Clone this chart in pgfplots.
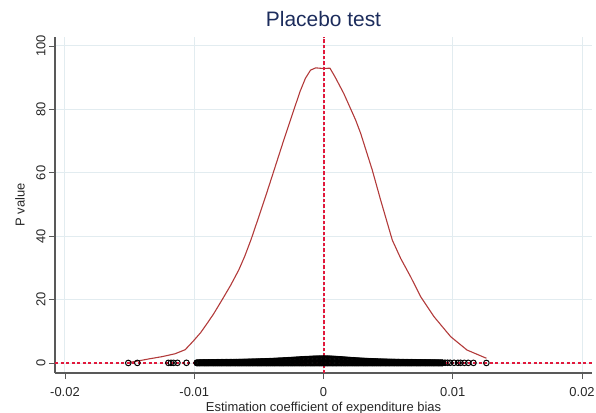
\documentclass[border=0pt]{standalone}
\usepackage{fontspec}
\setmainfont{Liberation Sans}
\usepackage{pgfplots}
\usepackage{pgfplotstable}
\pgfplotsset{compat=1.18}
\definecolor{curvered}{RGB}{178,58,58}
\definecolor{refred}{RGB}{225,25,60}
\definecolor{titlenavy}{RGB}{28,44,92}
\definecolor{gridblue}{RGB}{226,236,240}

% dense band of estimates: x, lower row, upper row
\pgfplotstableread{
x ylo yhi
-0.0098 0 0.10
-0.0097 0 0.11
-0.0096 0 0.12
-0.0095 0 0.13
-0.0094 0 0.14
-0.0093 0 0.15
-0.0092 0 0.15
-0.0091 0 0.16
-0.0090 0 0.16
-0.0089 0 0.17
-0.0088 0 0.17
-0.0087 0 0.18
-0.0086 0 0.18
-0.0085 0 0.19
-0.0084 0 0.19
-0.0083 0 0.20
-0.0082 0 0.20
-0.0081 0 0.21
-0.0080 0 0.21
-0.0079 0 0.22
-0.0078 0 0.22
-0.0077 0 0.23
-0.0076 0 0.23
-0.0075 0 0.24
-0.0074 0 0.24
-0.0073 0 0.25
-0.0072 0 0.25
-0.0071 0 0.26
-0.0070 0 0.26
-0.0069 0 0.27
-0.0068 0 0.27
-0.0067 0 0.28
-0.0066 0 0.28
-0.0065 0 0.29
-0.0064 0 0.30
-0.0063 0 0.31
-0.0062 0 0.32
-0.0061 0 0.33
-0.0060 0 0.34
-0.0059 0 0.35
-0.0058 0 0.36
-0.0057 0 0.37
-0.0056 0 0.38
-0.0055 0 0.39
-0.0054 0 0.40
-0.0053 0 0.41
-0.0052 0 0.42
-0.0051 0 0.43
-0.0050 0 0.44
-0.0049 0 0.45
-0.0048 0 0.46
-0.0047 0 0.47
-0.0046 0 0.48
-0.0045 0 0.50
-0.0044 0 0.52
-0.0043 0 0.53
-0.0042 0 0.55
-0.0041 0 0.56
-0.0040 0 0.58
-0.0039 0 0.60
-0.0038 0 0.62
-0.0037 0 0.64
-0.0036 0 0.66
-0.0035 0 0.68
-0.0034 0 0.70
-0.0033 0 0.72
-0.0032 0 0.74
-0.0031 0 0.76
-0.0030 0 0.78
-0.0029 0 0.81
-0.0028 0 0.83
-0.0027 0 0.86
-0.0026 0 0.88
-0.0025 0 0.91
-0.0024 0 0.93
-0.0023 0 0.96
-0.0022 0 0.98
-0.0021 0 1.01
-0.0020 0 1.03
-0.0019 0 1.06
-0.0018 0 1.08
-0.0017 0 1.11
-0.0016 0 1.13
-0.0015 0 1.16
-0.0014 0 1.18
-0.0013 0 1.20
-0.0012 0 1.22
-0.0011 0 1.24
-0.0010 0 1.26
-0.0009 0 1.28
-0.0008 0 1.30
-0.0007 0 1.32
-0.0006 0 1.33
-0.0005 0 1.34
-0.0004 0 1.35
-0.0003 0 1.36
-0.0002 0 1.37
-0.0001 0 1.37
0.0000 0 1.38
0.0001 0 1.37
0.0002 0 1.37
0.0003 0 1.36
0.0004 0 1.35
0.0005 0 1.33
0.0006 0 1.31
0.0007 0 1.29
0.0008 0 1.27
0.0009 0 1.24
0.0010 0 1.22
0.0011 0 1.19
0.0012 0 1.16
0.0013 0 1.13
0.0014 0 1.10
0.0015 0 1.07
0.0016 0 1.04
0.0017 0 1.01
0.0018 0 0.98
0.0019 0 0.95
0.0020 0 0.92
0.0021 0 0.89
0.0022 0 0.86
0.0023 0 0.83
0.0024 0 0.80
0.0025 0 0.78
0.0026 0 0.75
0.0027 0 0.73
0.0028 0 0.70
0.0029 0 0.68
0.0030 0 0.66
0.0031 0 0.64
0.0032 0 0.62
0.0033 0 0.60
0.0034 0 0.58
0.0035 0 0.56
0.0036 0 0.54
0.0037 0 0.52
0.0038 0 0.50
0.0039 0 0.49
0.0040 0 0.47
0.0041 0 0.46
0.0042 0 0.44
0.0043 0 0.43
0.0044 0 0.42
0.0045 0 0.40
0.0046 0 0.39
0.0047 0 0.38
0.0048 0 0.37
0.0049 0 0.36
0.0050 0 0.35
0.0051 0 0.34
0.0052 0 0.33
0.0053 0 0.32
0.0054 0 0.31
0.0055 0 0.30
0.0056 0 0.29
0.0057 0 0.28
0.0058 0 0.28
0.0059 0 0.27
0.0060 0 0.26
0.0061 0 0.26
0.0062 0 0.25
0.0063 0 0.24
0.0064 0 0.24
0.0065 0 0.23
0.0066 0 0.23
0.0067 0 0.22
0.0068 0 0.22
0.0069 0 0.21
0.0070 0 0.20
0.0071 0 0.20
0.0072 0 0.19
0.0073 0 0.19
0.0074 0 0.18
0.0075 0 0.18
0.0076 0 0.17
0.0077 0 0.17
0.0078 0 0.16
0.0079 0 0.16
0.0080 0 0.15
0.0081 0 0.15
0.0082 0 0.14
0.0083 0 0.14
0.0084 0 0.13
0.0085 0 0.13
0.0086 0 0.12
0.0087 0 0.12
0.0088 0 0.11
0.0089 0 0.11
0.0090 0 0.10
0.0091 0 0.10
0.0092 0 0.09
}\bandtable

% isolated estimates in the tails
\pgfplotstableread{
x y
-0.0151 0.02
-0.0144 0.04
-0.0120 0.05
-0.0118 0.05
-0.0116 0.05
-0.0113 0.06
-0.0106 0.06
0.0094 0.08
0.0096 0.08
0.0098 0.07
0.0101 0.07
0.0104 0.06
0.0106 0.06
0.0109 0.05
0.0112 0.05
0.0116 0.04
0.0126 0.02
}\tailtable

% p-value curve
\pgfplotstableread{
x y
-0.0152 0.1
-0.0144 0.6
-0.0135 1.3
-0.0125 2.0
-0.0115 2.9
-0.0107 4.2
-0.0101 6.8
-0.0095 9.6
-0.0090 12.5
-0.0085 15.5
-0.00785 19.9
-0.0072 24.4
-0.00656 29.3
-0.0061 33.6
-0.0056 39.0
-0.0052 43.8
-0.0045 52.3
-0.0040 58.6
-0.0031 70.0
-0.0023 79.8
-0.0018 85.8
-0.0014 89.8
-0.0010 92.4
-0.0006 93.1
0.0000 92.9
0.0005 93.0
0.0009 90.2
0.00157 85.0
0.00248 76.7
0.00287 72.5
0.00377 60.9
0.00442 51.4
0.00532 38.8
0.00597 33.0
0.00674 27.2
0.00752 20.9
0.00855 14.6
0.00984 8.3
0.0111 4.1
0.0126 1.5
}\curvetable

\begin{document}
\begin{tikzpicture}
\begin{axis}[
  scale only axis,
  width=537bp, height=336bp,
  xmin=-0.02077, xmax=0.02077,
  ymin=-3.15, ymax=102.84,
  axis x line=bottom, axis y line=left,
  axis line style={-, draw=black!65, line width=1.1bp},
  xtick={-0.02,-0.01,0,0.01,0.02},
  xticklabels={-0.02,-0.01,0,0.01,0.02},
  scaled x ticks=false,
  ytick={0,20,40,60,80,100},
  /pgf/number format/assume math mode=true,
  tick align=outside,
  major tick length=6bp,
  tick style={draw=black!65, line width=0.9bp},
  ticklabel style={font=\fontsize{13}{15}\selectfont, text=black!85},
  xticklabel style={yshift=-5bp},
  yticklabel style={rotate=90, anchor=south},
  grid=major,
  grid style={draw=gridblue, line width=1bp},
  title={Placebo test},
  title style={at={(axis description cs:0.5,1.0149)}, anchor=base,
    font=\fontsize{21}{24}\selectfont, text=titlenavy},
  xlabel={Estimation coefficient of expenditure bias},
  xlabel style={at={(axis description cs:0.5,-0.1131)}, anchor=base,
    font=\fontsize{13}{15}\selectfont, text=black!85},
  ylabel={P value},
  ylabel style={at={(axis description cs:-0.0652,0.5)}, anchor=center,
    font=\fontsize{13}{15}\selectfont, text=black!85},
  clip=false,
]
\addplot[only marks, mark=o, mark size=2.8bp, color=black, mark options={line width=1.1bp}]
  table[x=x, y=ylo] {\bandtable};
\addplot[only marks, mark=o, mark size=2.8bp, color=black, mark options={line width=1.1bp}]
  table[x=x, y=yhi] {\bandtable};
\addplot[only marks, mark=o, mark size=2.8bp, color=black, mark options={line width=1bp}]
  table[x=x, y=y] {\tailtable};
\addplot[color=curvered, line width=1.1bp] table[x=x, y=y] {\curvetable};
\addplot[color=refred, line width=1.1bp, dash pattern=on 3bp off 2.5bp]
  coordinates {(-0.02077,0) (0.02077,0)};
% reference line at zero
\draw[draw=refred, line width=1.4bp, dash pattern=on 3.5bp off 2bp]
  (axis cs:0.00003,-3.15) -- (axis cs:0.00003,102.84);
\end{axis}
\pgfresetboundingbox
\path (-55bp,-40bp) rectangle (541bp,373bp);
\end{tikzpicture}
\end{document}
